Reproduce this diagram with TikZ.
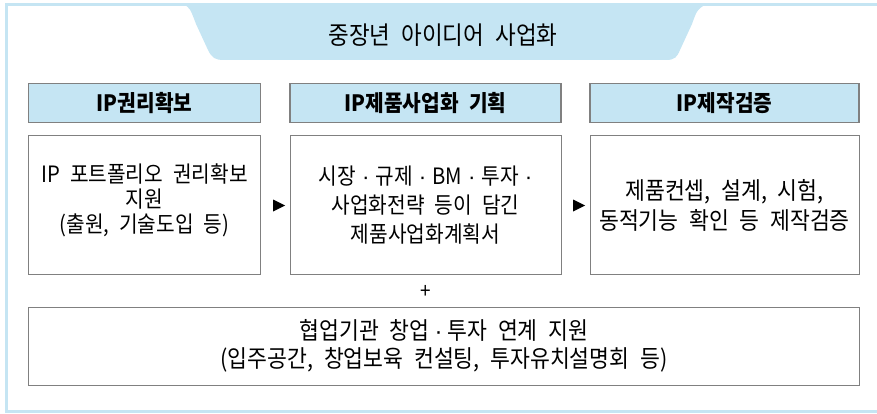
\documentclass[tikz,border=0pt]{standalone}
\usepackage{fontspec}
\setmainfont[WordSpace=2.2,FakeStretch=0.9]{Noto Sans CJK KR}
\newfontfamily\dotfont{Liberation Sans}
\newcommand\mdot[1]{\hspace{#1}{\dotfont ·}\hspace{#1}}
\definecolor{lblue}{RGB}{197,229,243}
\definecolor{boxgray}{RGB}{128,128,128}
\begin{document}
\begin{tikzpicture}[x=1pt,y=-1pt,
  hdr/.style={draw=boxgray,line width=1.3pt,fill=lblue,minimum width=232pt,minimum height=39pt,inner sep=0pt,
    font={\fontsize{22.5}{26}\selectfont\bfseries}},
  cbox/.style={draw=boxgray,line width=0.9pt,fill=white,minimum width=232pt,minimum height=139pt,inner sep=0pt},
  ctext/.style 2 args={align=center,inner sep=0pt,font={\fontsize{#1}{#2}\selectfont}},
  tri/.style={fill=black}
]
\useasboundingbox (0,0) rectangle (877,414);
% banner
\fill[lblue] (183,4) .. controls (190,8) .. (196,24) -- (208,50) .. controls (212,58) and (215,60) .. (224,60)
  -- (666,60) .. controls (675,60) and (677,57) .. (680,50) -- (692,24) .. controls (697,10) .. (706,4) -- cycle;
% outer frame (right edge lies outside the page)
\draw[lblue,line width=3pt] (6.5,4.5) rectangle (885,411.5);
\node[font={\fontsize{25}{28}\selectfont}] (title) at (443,35.5) {중장년 아이디어 사업화};
% headers
\node[hdr] (h1) at (144.5,103) {IP권리확보};
\node[hdr,minimum width=271pt] (h2) at (425.5,103) {IP제품사업화 기획};
\node[hdr,minimum width=269pt] (h3) at (724.5,103) {IP제작검증};
% content boxes
\node[cbox] (c1) at (144.5,205) {};
\node[cbox,minimum width=271pt] (c2) at (425.5,205) {};
\node[cbox,minimum width=269pt] (c3) at (724.5,205) {};
\node[ctext={22.5}{25}] (t1) at (144.5,200) {IP 포트폴리오 권리확보\\지원\\(출원, 기술도입 등)};
\node[ctext={22.5}{29}] (t2) at (425.5,205) {시장\mdot{6pt}규제\mdot{6pt}BM\mdot{6pt}투자\mdot{6pt}\\사업화전략 등이 담긴\\제품사업화계획서};
\node[ctext={24}{29.5}] (t3) at (724.5,205.5) {제품컨셉, 설계, 시험,\\동적기능 확인 등 제작검증};
% arrows between boxes
\fill[tri] (273,199.5) -- (285,205.5) -- (273,211.5) -- cycle;
\fill[tri] (573,199.5) -- (585,205.5) -- (573,211.5) -- cycle;
% plus
\node[font={\fontsize{21}{23}\selectfont}] (plus) at (425.5,291.5) {+};
% bottom box
\node[draw=boxgray,line width=0.9pt,minimum width=831pt,minimum height=78pt,inner sep=0pt] (sup) at (444,346) {};
\node[ctext={24}{28}] (ts) at (444,346) {협업기관 창업\mdot{5pt}투자 연계 지원\\(입주공간, 창업보육 컨설팅, 투자유치설명회 등)};
\end{tikzpicture}
\end{document}
